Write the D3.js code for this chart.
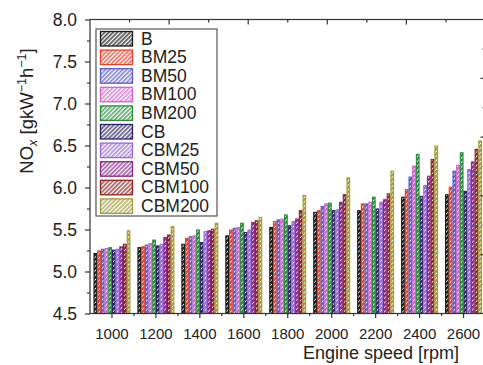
<!DOCTYPE html>
<html><head><meta charset="utf-8">
<script src="https://cdn.jsdelivr.net/npm/d3@7"></script>
<style>body{margin:0;background:#fff}svg{display:block;font-family:"Liberation Sans",Arial,sans-serif}</style>
</head><body>
<script>
const categories = ["1000","1200","1400","1600","1800","2000","2200","2400","2600"];
const seriesNames = ["B","BM25","BM50","BM100","BM200","CB","CBM25","CBM50","CBM100","CBM200"];
const seriesColors = ["#1a1a1a","#e8402c","#5c5cc0","#cc66cc","#2e8b40","#2c2462","#9a6ad0","#882a8c","#8a2424","#a39c3c"];
const B      = [5.22,5.29,5.33,5.43,5.53,5.71,5.73,5.89,5.92];
const BM25   = [5.25,5.30,5.40,5.50,5.60,5.73,5.81,5.98,6.01];
const BM50   = [5.27,5.32,5.42,5.52,5.62,5.78,5.81,6.13,6.20];
const BM100  = [5.28,5.34,5.43,5.53,5.63,5.81,5.83,6.26,6.27];
const BM200  = [5.29,5.38,5.50,5.58,5.68,5.82,5.89,6.40,6.42];
const CB     = [5.26,5.31,5.35,5.47,5.55,5.73,5.75,5.90,5.96];
const CBM25  = [5.27,5.33,5.48,5.50,5.60,5.74,5.83,6.03,6.22];
const CBM50  = [5.30,5.41,5.49,5.59,5.63,5.83,5.86,6.14,6.31];
const CBM100 = [5.33,5.44,5.51,5.61,5.73,5.92,5.93,6.34,6.46];
const CBM200 = [5.49,5.54,5.58,5.65,5.91,6.12,6.20,6.50,6.56];
const seriesValues = [B,BM25,BM50,BM100,BM200,CB,CBM25,CBM50,CBM100,CBM200];
const yMajorTicks = [4.5,5.0,5.5,6.0,6.5,7.0,7.5,8.0];

const W = 483, H = 365;
const L = 90, R = 485.5, T = 19.5, Bt = 313.5;
const svg = d3.select("body").append("svg").attr("width",W).attr("height",H);
const defs = svg.append("defs");
seriesColors.forEach((c,i)=>{
  const p = defs.append("pattern").attr("id","h"+i).attr("patternUnits","userSpaceOnUse")
    .attr("width",3).attr("height",3).attr("patternTransform","rotate(45)");
  p.append("rect").attr("width",3).attr("height",3).attr("fill","#fff");
  p.append("rect").attr("width",1.7).attr("height",3).attr("fill",c);
  const q = defs.append("pattern").attr("id","b"+i).attr("patternUnits","userSpaceOnUse")
    .attr("width",3.2).attr("height",3.2).attr("patternTransform","rotate(45)");
  q.append("rect").attr("width",3.2).attr("height",3.2).attr("fill","#fff");
  q.append("rect").attr("width",2.3).attr("height",3.2).attr("fill",c);
});

const x = d3.scaleBand().domain(categories).range([L,R]).paddingInner(0.16).paddingOuter(0.08);
const xs = d3.scaleBand().domain(seriesNames).range([0,x.bandwidth()]);
const y = d3.scaleLinear().domain([4.5,8.0]).range([Bt,T]);

// bars
seriesNames.forEach((s,si)=>{
  svg.append("g").selectAll("rect").data(seriesValues[si]).join("rect")
    .attr("x",(d,i)=>x(categories[i])+xs(s)+0.5)
    .attr("width",xs.bandwidth()-1)
    .attr("y",d=>y(d)+0.5)
    .attr("height",d=>y(4.5)-y(d)-0.5)
    .attr("fill","url(#b"+si+")")
    .attr("stroke",seriesColors[si]).attr("stroke-width",1.1);
});

const axc = "#333";
// frame
svg.append("rect").attr("x",L).attr("y",T).attr("width",R-L).attr("height",Bt-T)
  .attr("fill","none").attr("stroke",axc).attr("stroke-width",1.2);

// left axis
const yMinor = d3.range(4.75,8.0,0.5);
const gl = svg.append("g").attr("transform",`translate(${L},0)`)
  .call(d3.axisLeft(y).tickValues(yMajorTicks).tickFormat(d3.format(".1f")).tickSize(5).tickPadding(8));
gl.select(".domain").remove();
gl.selectAll("line").attr("stroke",axc).attr("stroke-width",1.2);
gl.selectAll("text").attr("font-size",17.5).attr("fill","#222").attr("font-family","Liberation Sans, Arial");
svg.append("g").attr("transform",`translate(${L},0)`)
  .call(d3.axisLeft(y).tickValues(yMinor).tickFormat("").tickSize(3))
  .call(g=>{g.select(".domain").remove();g.selectAll("line").attr("stroke",axc).attr("stroke-width",1.2);});

// bottom axis
const xc = d=>x(d)+x.bandwidth()/2;
const gb = svg.append("g").attr("transform",`translate(0,${Bt})`);
gb.selectAll("line.maj").data(categories).join("line")
  .attr("x1",xc).attr("x2",xc).attr("y1",0).attr("y2",4.5).attr("stroke",axc).attr("stroke-width",1.2);
gb.selectAll("line.min").data(categories.slice(1)).join("line").attr("class","min")
  .attr("x1",d=>xc(d)-x.step()/2).attr("x2",d=>xc(d)-x.step()/2).attr("y1",0).attr("y2",2.5)
  .attr("stroke",axc).attr("stroke-width",1.2);
gb.selectAll("text").data(categories).join("text")
  .attr("x",xc).attr("y",25.5).attr("text-anchor","middle").attr("font-size",15).attr("fill","#222").text(d=>d);

// top and right axes: 10 divisions, inward ticks
const topScale = d3.scaleLinear().domain([0,10]).range([L,R]);
const rightScale = d3.scaleLinear().domain([0,10]).range([Bt,T]);
d3.range(1,10).forEach(k=>{
  const len = k%2===0 ? 5 : 3;
  svg.append("line").attr("x1",topScale(k)).attr("x2",topScale(k)).attr("y1",T).attr("y2",T+len)
    .attr("stroke",axc).attr("stroke-width",1.2);
  svg.append("line").attr("y1",rightScale(k)).attr("y2",rightScale(k)).attr("x1",R).attr("x2",R-len)
    .attr("stroke",axc).attr("stroke-width",1.2);
});

// axis titles
svg.append("text").attr("x",381).attr("y",359).attr("text-anchor","middle")
  .attr("font-size",18).attr("fill","#222").text("Engine speed [rpm]");
const yt = svg.append("text").attr("transform","translate(33,111) rotate(-90)")
  .attr("text-anchor","middle").attr("font-size",18.5).attr("fill","#222");
yt.append("tspan").text("NO");
yt.append("tspan").attr("font-size",12.5).attr("font-style","italic").attr("dy",4).text("x");
yt.append("tspan").attr("dy",-4).text(" [gkW");
yt.append("tspan").attr("font-size",12.5).attr("dy",-7).text("\u22121");
yt.append("tspan").attr("dy",7).text("h");
yt.append("tspan").attr("font-size",12.5).attr("dy",-7).text("\u22121");
yt.append("tspan").attr("dy",7).text("]");

// legend
const lg = svg.append("g");
lg.append("rect").attr("x",96).attr("y",29).attr("width",121).attr("height",187)
  .attr("fill","#fff").attr("stroke","#555").attr("stroke-width",1.2);
seriesNames.forEach((s,i)=>{
  const yy = 31.5 + i*18.6;
  lg.append("rect").attr("x",100.5).attr("y",yy).attr("width",32).attr("height",14.5)
    .attr("fill","url(#h"+i+")").attr("fill-opacity",0.75).attr("stroke",seriesColors[i]).attr("stroke-width",1.3);
  lg.append("text").attr("x",141).attr("y",yy+13).attr("font-size",17.5).attr("fill","#222").text(s);
});
</script>
</body></html>
